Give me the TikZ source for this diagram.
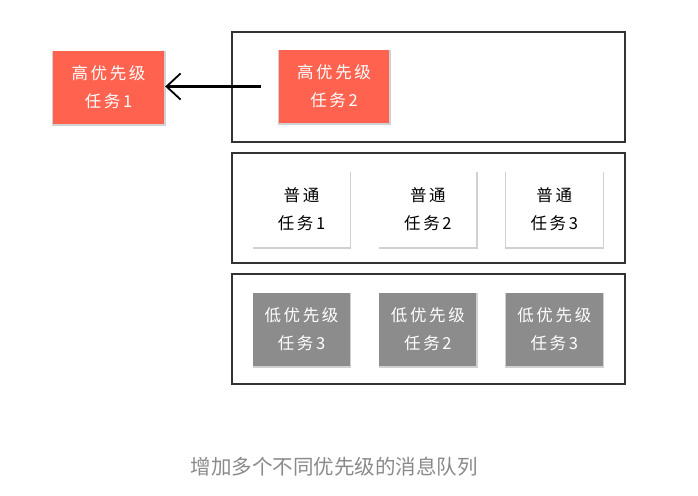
\documentclass[tikz,border=0pt]{standalone}
\usepackage{fontspec}
\newfontfamily\cjk{Noto Sans CJK SC}
\newfontfamily\cjkwide[LetterSpace=16]{Noto Sans CJK SC}
\usetikzlibrary{arrows.meta, positioning, shadows}
\definecolor{hired}{HTML}{FF6350}
\definecolor{lowgray}{HTML}{8C8C8C}
\definecolor{capgray}{HTML}{8A8A8A}

\begin{document}
\begin{tikzpicture}[x=1pt, y=-1pt,
      node distance=46pt and 29pt,
      queue/.style={rectangle, draw=black!80, line width=1.1pt, minimum width=393pt, minimum height=110pt},
      task/.style={rectangle, minimum width=97pt, minimum height=75pt, align=center, inner sep=0pt,
        font=\cjkwide\fontsize{16.5}{28}\selectfont,
        drop shadow={shadow xshift=0.5pt, shadow yshift=-1pt, shadow scale=1.02, opacity=0.18, fill=black}},
      hightask/.style={task, fill=hired, text=white, minimum width=111pt, minimum height=73pt},
      normtask/.style={task, fill=white, text=black},
      lowtask/.style={task, fill=lowgray, text=white, minimum height=73pt},
      pass/.style={draw=black, line width=2.8pt, -{Straight Barb[length=14pt, width=26pt, line width=1.8pt]}},
    ]
      \useasboundingbox (0,0) rectangle (698,495);
      % the three queues
      \node[queue] (q1) at (428.5,87) {};
      \node[queue] (q2) at (428.5,208) {};
      \node[queue] (q3) at (428.5,329) {};
      % high priority
      \node[hightask] (hi1) at (108.5,87.5) {高优先级\\任务1};
      \node[hightask, minimum width=110pt] (hi2) at (334,86.5) {高优先级\\任务2};
      \draw[pass, shorten <=18pt, shorten >=1pt] (hi2.west) -- (hi2.west -| hi1.east);
      % normal
      \node[normtask] (n1) at (301.5,209.5) {普通\\任务1};
      \node[normtask] (n2) [right=of n1] {普通\\任务2};
      \node[normtask] (n3) [right=of n2] {普通\\任务3};
      % low priority
      \node[lowtask] (lo1) at (301.5,329.5) {低优先级\\任务3};
      \node[lowtask] (lo2) [right=of lo1] {低优先级\\任务2};
      \node[lowtask] (lo3) [right=of lo2] {低优先级\\任务3};
      % caption
      \node[font=\cjk\fontsize{20.5}{24}\selectfont, text=capgray] (cap) at (334,467) {增加多个不同优先级的消息队列};
    \end{tikzpicture}
\end{document}
